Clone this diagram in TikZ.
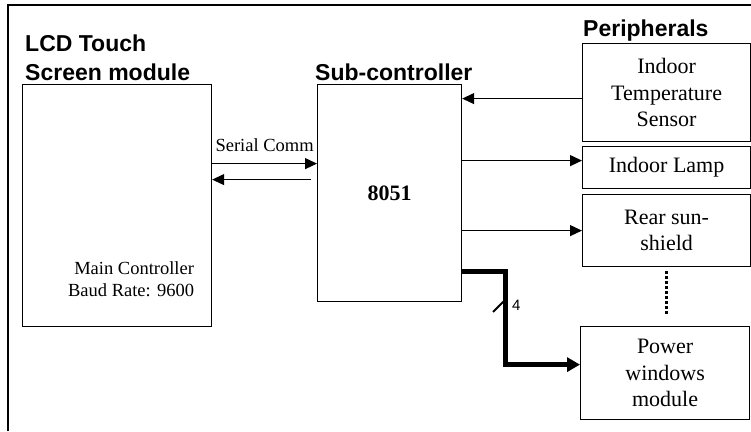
\documentclass[tikz,border=0pt]{standalone}
\usepackage{fontspec}
\setmainfont{Liberation Serif}
\setsansfont{Liberation Sans}
\usetikzlibrary{arrows.meta, positioning}

\begin{document}
\begin{tikzpicture}[x=1pt,y=-1pt,>={Triangle[length=12pt,width=11pt]},
    box/.style={draw, line width=1.2pt, anchor=north west, align=center, inner sep=0pt,
      font=\fontsize{22}{26.5}\selectfont},
    title/.style={font=\sffamily\bfseries\fontsize{23}{29}\selectfont, inner sep=0pt},
    small/.style={font=\fontsize{18.5}{22}\selectfont},
    link/.style={line width=1.2pt},
    bus/.style={line width=5pt, >={Triangle[length=13pt,width=14pt]}}]
    \useasboundingbox (0,0) rectangle (751,431);
    % Cornice
    \draw[line width=1.5pt] (8,431) -- (8,5) -- (751,5);
    % Blocchi
    \node[box, minimum width=189pt, minimum height=242pt] (lcd) at (22,84) {};
    \node[box, minimum width=144pt, minimum height=217pt] (sub) at (317,84) {\bfseries 8051};
    \node[box, minimum width=168pt, minimum height=98pt] (sensor) at (582,43) {Indoor\\Temperature\\Sensor};
    \node[box, minimum width=168pt, minimum height=42pt] (lamp) at (582,146) {Indoor Lamp};
    \node[box, minimum width=168pt, minimum height=72pt] (shield) at (582,194) {Rear sun-\\shield};
    \node[box, minimum width=169pt, minimum height=93pt] (windows) at (580,326) {Power\\windows\\module};
    % Titoli
    \node[title, anchor=south west, align=left] (lcdtitle) at ([shift={(3pt,3pt)}]lcd.north west) {LCD Touch\\Screen module};
    \node[title, anchor=base west] (subtitle) at ([shift={(-2pt,4pt)}]sub.north west) {Sub-controller};
    \node[title, anchor=base west] (periph) at ([shift={(1pt,7pt)}]sensor.north west) {Peripherals};
    \node[small, anchor=north east, align=right, inner sep=0pt] (lcdnote) at ([shift={(-18pt,66pt)}]lcd.south east) {Main Controller\\Baud Rate: 9600};
    % Comunicazione seriale
    \coordinate (sc1) at ([yshift=42pt]lcd.east);
    \coordinate (sc2) at ([yshift=26pt]lcd.east);
    \draw[link,->] (sc1) -- (sc1 -| sub.west) node[small, midway, above=8pt] {Serial Comm};
    \draw[link,->,shorten <=6pt] (sc2 -| sub.west) -- (sc2);
    % Periferiche
    \coordinate (tin) at ([yshift=-6pt]sensor.west);
    \coordinate (lout) at ([yshift=7pt]lamp.west);
    \draw[link,->] (tin) -- (tin -| sub.east);
    \draw[link,->] (lout -| sub.east) -- (lout);
    \draw[link,->] (shield.west -| sub.east) -- (shield.west);
    % Bus a 4 bit
    \coordinate (busout) at ([yshift=31pt]sub.south east);
    \coordinate (busbend) at (505,300);
    \coordinate (busin) at ([yshift=8.5pt]windows.west);
    \draw[bus,->] (busout) -| (busbend) |- (busin);
    \coordinate (tick) at (500,305);
    \draw[line width=2pt] ([shift={(-7,7)}]tick) -- ([shift={(7,-7)}]tick);
    \node[right=12pt of tick, inner sep=0pt, font=\sffamily\fontsize{15}{15}\selectfont] (buswidth) {4};
    % Puntini
    \coordinate (dtop) at ([yshift=-4pt]shield.south);
    \draw[line width=3.5pt, dash pattern=on 3pt off 2pt, shorten >=12pt] (dtop) -- (dtop |- windows.north);
\end{tikzpicture}
\end{document}
